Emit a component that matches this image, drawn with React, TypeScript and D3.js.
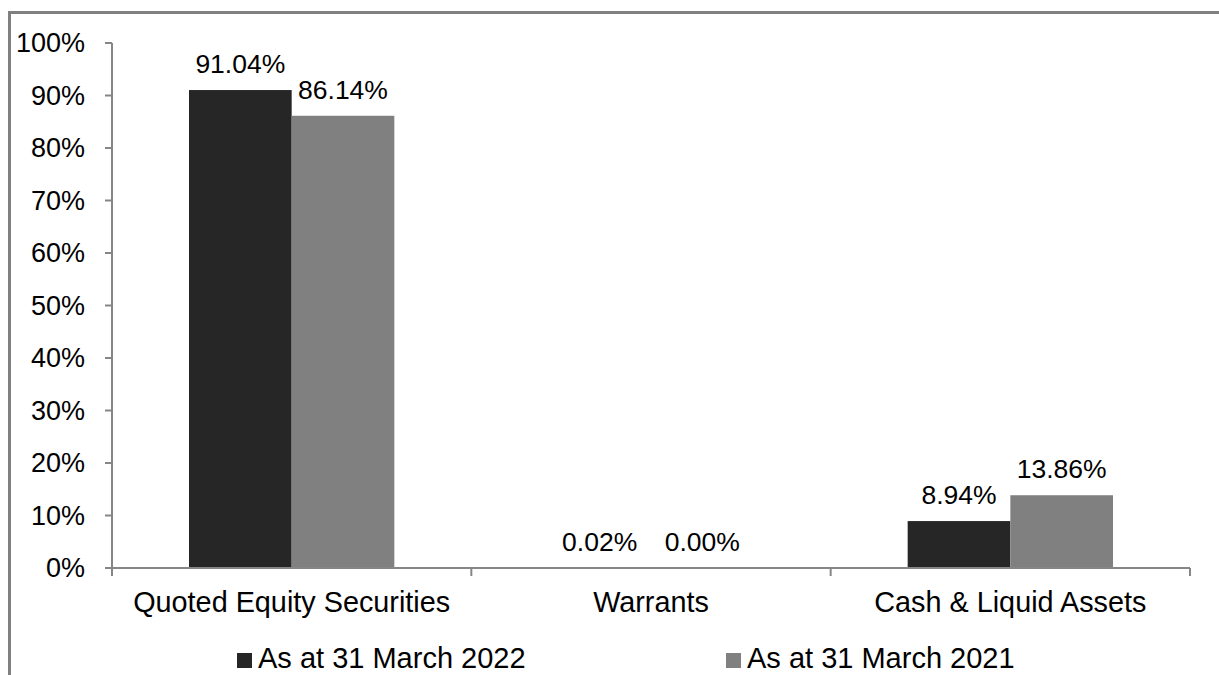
import React from "react";
import * as d3 from "d3";

const categories = ["Quoted Equity Securities", "Warrants", "Cash & Liquid Assets"];
const seriesNames = ["As at 31 March 2022", "As at 31 March 2021"];
const values2022 = [91.04, 0.02, 8.94];
const values2021 = [86.14, 0.0, 13.86];
const yTicks = [0, 10, 20, 30, 40, 50, 60, 70, 80, 90, 100];
const seriesColors = ["#262626", "#808080"];

const W = 1219;
const H = 675;
const FONT = "'Liberation Sans', Arial, sans-serif";

export default function App() {
  const x0 = d3.scaleBand<string>().domain(categories).range([112, 1190]).paddingInner(0).paddingOuter(0);
  const x1 = d3.scaleBand<string>().domain(seriesNames).range([0, x0.bandwidth()]).paddingInner(0).paddingOuter(0.75);
  const y = d3.scaleLinear().domain([0, 100]).range([568, 43]);
  const seriesValues = [values2022, values2021];
  const axisColor = "#868686";
  const catTicks = [...categories.map((c) => x0(c) as number), 1190];

  return (
    <svg width={W} height={H} style={{ position: "absolute", left: 0, top: 0, background: "#fff" }} fontFamily={FONT}>
      <rect x={0} y={0} width={W} height={H} fill="#fff" />
      {/* outer frame */}
      <rect x={9.5} y={12.5} width={1400} height={900} fill="none" stroke="#808080" strokeWidth={3} />

      {/* bars */}
      {categories.map((c, ci) =>
        seriesNames.map((s, si) => {
          const v = seriesValues[si][ci];
          const bx = (x0(c) as number) + (x1(s) as number);
          const by = y(v);
          return (
            <g key={c + s}>
              <rect x={bx} y={by} width={x1.bandwidth()} height={y(0) - by} fill={seriesColors[si]} />
              <text
                x={bx + x1.bandwidth() / 2}
                y={by - 17}
                textAnchor="middle"
                fontSize={26.5}
                fill="#000"
              >
                {v.toFixed(2) + "%"}
              </text>
            </g>
          );
        })
      )}

      {/* y axis */}
      <line x1={112} x2={112} y1={y(100)} y2={y(0)} stroke={axisColor} strokeWidth={2} />
      {yTicks.map((t) => (
        <g key={t}>
          <line x1={105} x2={112} y1={y(t)} y2={y(t)} stroke={axisColor} strokeWidth={2} />
          <text x={85} y={y(t)} dy="0.35em" textAnchor="end" fontSize={27} fill="#000">
            {t + "%"}
          </text>
        </g>
      ))}

      {/* x axis */}
      <line x1={112} x2={1190} y1={y(0)} y2={y(0)} stroke={axisColor} strokeWidth={2} />
      {catTicks.map((tx, i) => (
        <line key={i} x1={tx} x2={tx} y1={y(0)} y2={y(0) + 8} stroke={axisColor} strokeWidth={2} />
      ))}
      {categories.map((c) => (
        <text key={c} x={(x0(c) as number) + x0.bandwidth() / 2} y={612} textAnchor="middle" fontSize={28.8} fill="#000">
          {c}
        </text>
      ))}

      {/* legend */}
      {seriesNames.map((s, i) => {
        const lx = i === 0 ? 237 : 726;
        return (
          <g key={s}>
            <rect x={lx} y={653} width={15} height={15} fill={seriesColors[i]} />
            <text x={lx + 21} y={668} fontSize={29} fill="#000">
              {s}
            </text>
          </g>
        );
      })}
    </svg>
  );
}
